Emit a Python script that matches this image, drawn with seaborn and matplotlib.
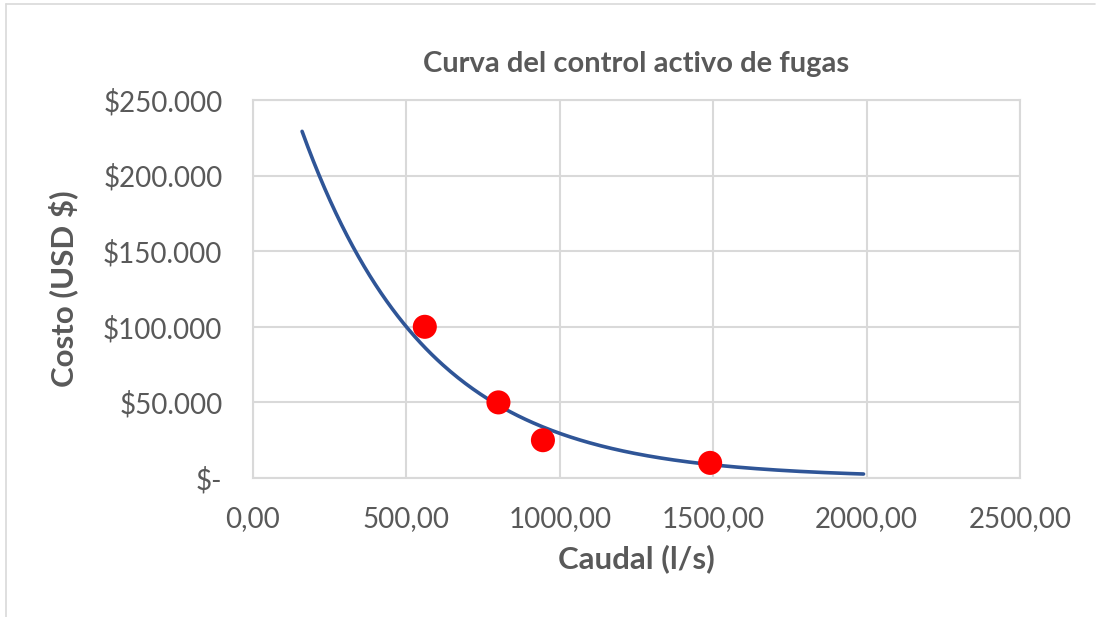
import numpy as np
import pandas as pd
import matplotlib
matplotlib.use("Agg")
import matplotlib.pyplot as plt
from matplotlib.ticker import FuncFormatter, MultipleLocator
from matplotlib.lines import Line2D
import seaborn as sns

# Data
caudal = [560, 800, 945, 1490]          # l/s
costo = [100000, 50000, 25000, 10000]    # USD
# Exponential trendline forecast (Excel style)
forecast_backward = 400
forecast_forward = 500

title = "Curva del control activo de fugas"
xlabel = "Caudal (l/s)"
ylabel = "Costo (USD $)"

sns.set_theme(style="white")
plt.rcParams['font.family'] = ['Lato', 'DejaVu Sans']

TEXT = "#595959"
GRID = "#d9d9d9"

df = pd.DataFrame({"caudal": caudal, "costo": costo})

# Exponential trendline fitted to the data
b, ln_a = np.polyfit(df["caudal"], np.log(df["costo"]), 1)
xt = np.linspace(min(caudal) - forecast_backward, max(caudal) + forecast_forward, 300)
trend = pd.DataFrame({"caudal": xt, "costo": np.exp(ln_a) * np.exp(b * xt)})

fig = plt.figure(figsize=(11.01, 6.17), dpi=100)
ax = fig.add_axes([253/1101, 1 - 478/617, (1020-253)/1101, (478-100)/617])

sns.lineplot(data=trend, x="caudal", y="costo", ax=ax, color="#2F5597",
             linewidth=2.6, zorder=3)
sns.scatterplot(data=df, x="caudal", y="costo", ax=ax, color="#FF0000",
                s=300, edgecolor="none", zorder=4)

ax.set_xlim(0, 2500)
ax.set_ylim(0, 250000)
ax.xaxis.set_major_locator(MultipleLocator(500))
ax.yaxis.set_major_locator(MultipleLocator(50000))

def yfmt(v, pos):
    if abs(v) < 1e-9:
        return "$-"
    return "$" + f"{int(round(v)):,}".replace(",", ".")

def xfmt(v, pos):
    return f"{v:.2f}".replace(".", ",")

ax.yaxis.set_major_formatter(FuncFormatter(yfmt))
ax.xaxis.set_major_formatter(FuncFormatter(xfmt))

ax.grid(True, color=GRID, linewidth=1.5)
ax.set_axisbelow(True)
for s in ax.spines.values():
    s.set_color(GRID)
    s.set_linewidth(1.5)

ax.tick_params(axis="both", length=0, labelsize=20, colors=TEXT)
ax.tick_params(axis="y", pad=22)
ax.tick_params(axis="x", pad=20)

ax.set_xlabel(xlabel, fontsize=22.5, fontweight="bold", color=TEXT, labelpad=9)
ax.set_ylabel(ylabel, fontsize=22.5, fontweight="bold", color=TEXT, labelpad=18)
ax.set_title(title, fontsize=21, fontweight="bold", color=TEXT, pad=20)

# chart border (Excel-like)
fig.add_artist(Line2D([6/1101, 1095/1101], [1 - 4/617, 1 - 4/617],
                      color="#d9d9d9", linewidth=1.2, transform=fig.transFigure))
fig.add_artist(Line2D([6/1101, 6/1101], [0, 1 - 4/617],
                      color="#d9d9d9", linewidth=1.2, transform=fig.transFigure))

fig.savefig("out.png", dpi=100, facecolor="white")
